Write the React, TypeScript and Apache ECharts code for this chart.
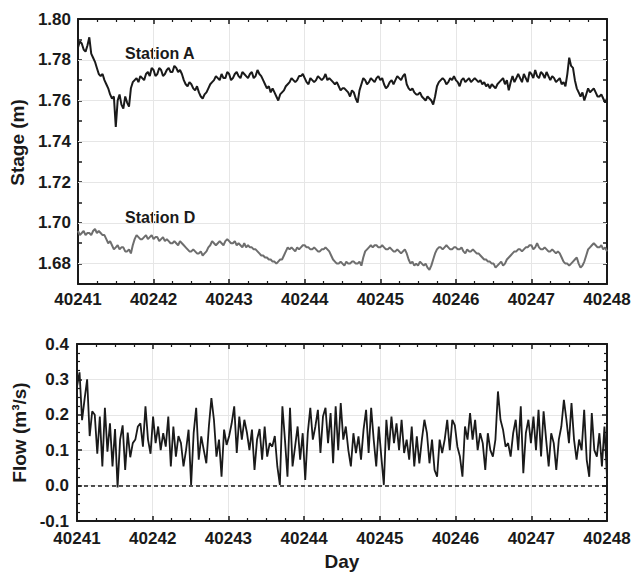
import React, { useEffect, useRef } from "react";
import * as echarts from "echarts";

const DAY_START = 40241;
const DAY_END = 40248;

// Station A stage (m), evenly spaced over the 7 days
const stationA = [
  1.786, 1.789, 1.788, 1.785, 1.784, 1.787, 1.791, 1.783, 1.781, 1.779,
  1.776, 1.773, 1.772, 1.773, 1.770, 1.768, 1.766, 1.763, 1.761, 1.762,
  1.747, 1.760, 1.763, 1.758, 1.756, 1.762, 1.759, 1.757, 1.766, 1.769,
  1.770, 1.771, 1.769, 1.772, 1.771, 1.770, 1.773, 1.774, 1.772, 1.776,
  1.775, 1.772, 1.773, 1.776, 1.775, 1.772, 1.773, 1.775, 1.776, 1.774,
  1.774, 1.777, 1.776, 1.774, 1.775, 1.773, 1.770, 1.768, 1.767, 1.769,
  1.768, 1.766, 1.765, 1.767, 1.764, 1.762, 1.761, 1.763, 1.764, 1.766,
  1.768, 1.769, 1.770, 1.772, 1.771, 1.770, 1.773, 1.771, 1.771, 1.774,
  1.773, 1.770, 1.771, 1.773, 1.774, 1.772, 1.771, 1.774, 1.773, 1.772,
  1.771, 1.773, 1.774, 1.771, 1.772, 1.775, 1.773, 1.772, 1.770, 1.768,
  1.766, 1.767, 1.764, 1.766, 1.764, 1.762, 1.760, 1.763, 1.764, 1.765,
  1.767, 1.768, 1.769, 1.771, 1.770, 1.769, 1.770, 1.772, 1.772, 1.773,
  1.771, 1.769, 1.768, 1.771, 1.770, 1.769, 1.770, 1.772, 1.771, 1.770,
  1.771, 1.773, 1.770, 1.771, 1.770, 1.769, 1.768, 1.769, 1.767, 1.765,
  1.766, 1.766, 1.765, 1.764, 1.762, 1.765, 1.764, 1.761, 1.759, 1.765,
  1.768, 1.771, 1.770, 1.768, 1.769, 1.771, 1.770, 1.769, 1.771, 1.772,
  1.770, 1.771, 1.768, 1.766, 1.767, 1.769, 1.770, 1.768, 1.770, 1.772,
  1.771, 1.770, 1.772, 1.773, 1.768, 1.766, 1.765, 1.766, 1.764, 1.763,
  1.763, 1.764, 1.762, 1.761, 1.760, 1.762, 1.761, 1.760, 1.758, 1.762,
  1.767, 1.769, 1.770, 1.771, 1.770, 1.768, 1.769, 1.771, 1.770, 1.772,
  1.770, 1.769, 1.767, 1.770, 1.771, 1.769, 1.770, 1.771, 1.769, 1.770,
  1.771, 1.770, 1.769, 1.770, 1.768, 1.769, 1.767, 1.768, 1.766, 1.768,
  1.767, 1.766, 1.768, 1.769, 1.770, 1.771, 1.768, 1.770, 1.765, 1.769,
  1.772, 1.769, 1.771, 1.773, 1.771, 1.769, 1.773, 1.771, 1.769, 1.774,
  1.773, 1.771, 1.775, 1.772, 1.771, 1.774, 1.773, 1.771, 1.774, 1.772,
  1.770, 1.772, 1.771, 1.769, 1.770, 1.771, 1.768, 1.769, 1.767, 1.773,
  1.781, 1.777, 1.776, 1.770, 1.766, 1.764, 1.762, 1.764, 1.760, 1.763,
  1.766, 1.764, 1.765, 1.766, 1.764, 1.762, 1.762, 1.763, 1.761, 1.759,
  1.761,
];

// Station D stage (m), evenly spaced over the 7 days
const stationD = [
  1.696, 1.694, 1.695, 1.696, 1.694, 1.695, 1.695, 1.694, 1.696, 1.697,
  1.695, 1.696, 1.695, 1.694, 1.694, 1.692, 1.690, 1.691, 1.689, 1.687,
  1.688, 1.689, 1.687, 1.688, 1.688, 1.686, 1.686, 1.687, 1.685, 1.689,
  1.692, 1.694, 1.693, 1.692, 1.692, 1.693, 1.694, 1.692, 1.693, 1.694,
  1.692, 1.693, 1.693, 1.691, 1.692, 1.693, 1.691, 1.692, 1.691, 1.690,
  1.690, 1.691, 1.690, 1.689, 1.691, 1.690, 1.689, 1.688, 1.687, 1.686,
  1.686, 1.687, 1.686, 1.685, 1.685, 1.686, 1.684, 1.685, 1.686, 1.688,
  1.689, 1.691, 1.690, 1.689, 1.690, 1.691, 1.690, 1.689, 1.691, 1.692,
  1.691, 1.690, 1.690, 1.691, 1.689, 1.690, 1.689, 1.688, 1.690, 1.688,
  1.689, 1.688, 1.688, 1.687, 1.687, 1.686, 1.685, 1.684, 1.684, 1.683,
  1.683, 1.682, 1.682, 1.681, 1.681, 1.680, 1.681, 1.682, 1.682, 1.684,
  1.686, 1.688, 1.687, 1.688, 1.687, 1.686, 1.688, 1.687, 1.688, 1.689,
  1.689, 1.688, 1.688, 1.687, 1.687, 1.688, 1.687, 1.686, 1.686, 1.687,
  1.687, 1.688, 1.687, 1.686, 1.684, 1.682, 1.681, 1.680, 1.680, 1.681,
  1.680, 1.679, 1.681, 1.680, 1.680, 1.681, 1.681, 1.680, 1.680, 1.681,
  1.679, 1.683, 1.686, 1.687, 1.688, 1.689, 1.688, 1.689, 1.689, 1.688,
  1.688, 1.689, 1.688, 1.687, 1.687, 1.688, 1.687, 1.686, 1.686, 1.687,
  1.686, 1.685, 1.686, 1.687, 1.685, 1.682, 1.680, 1.681, 1.679, 1.680,
  1.679, 1.681, 1.680, 1.679, 1.680, 1.678, 1.677, 1.679, 1.682, 1.685,
  1.687, 1.688, 1.688, 1.687, 1.688, 1.689, 1.688, 1.687, 1.687, 1.688,
  1.688, 1.687, 1.687, 1.688, 1.686, 1.685, 1.687, 1.686, 1.686, 1.687,
  1.686, 1.685, 1.685, 1.684, 1.683, 1.682, 1.682, 1.681, 1.681, 1.680,
  1.680, 1.678, 1.679, 1.680, 1.681, 1.679, 1.680, 1.682, 1.683, 1.684,
  1.685, 1.686, 1.686, 1.687, 1.687, 1.686, 1.687, 1.688, 1.688, 1.689,
  1.689, 1.687, 1.688, 1.690, 1.688, 1.687, 1.687, 1.688, 1.687, 1.686,
  1.686, 1.687, 1.686, 1.685, 1.686, 1.685, 1.683, 1.681, 1.680, 1.680,
  1.679, 1.680, 1.681, 1.682, 1.683, 1.680, 1.678, 1.679, 1.681, 1.684,
  1.687, 1.688, 1.689, 1.690, 1.689, 1.688, 1.688, 1.689, 1.687, 1.688,
  1.686,
];

// Flow (m3/s), evenly spaced over the 7 days
const flow = [
  0.28, 0.32, 0.185, 0.245, 0.30, 0.14, 0.21, 0.20, 0.09, 0.195,
  0.054, 0.22, 0.096, 0.176, 0.054, 0.16, -0.005, 0.13, 0.17, 0.044,
  0.15, 0.08, 0.12, 0.13, 0.167, 0.176, 0.11, 0.224, 0.13, 0.09,
  0.195, 0.12, 0.167, 0.10, 0.148, 0.11, 0.195, 0.054, 0.167, 0.082,
  0.14, 0.12, 0.054, 0.10, 0.158, 0.002, 0.148, 0.22, 0.073, 0.139,
  0.10, 0.063, 0.167, 0.247, 0.186, 0.082, 0.13, 0.025, 0.158, 0.115,
  0.14, 0.176, 0.224, 0.092, 0.195, 0.13, 0.186, 0.15,
  0.10, 0.158, 0.044, 0.13, 0.16, 0.073, 0.167, 0.082, 0.12, 0.11,
  0.14, 0.054, 0.002, 0.224, 0.13, 0.025, 0.22, 0.054, 0.11, 0.167,
  0.073, 0.148, 0.016, 0.148, 0.22, 0.13, 0.167, 0.214, 0.092, 0.195,
  0.22, 0.12, 0.205, 0.063, 0.224, 0.10, 0.233, 0.13, 0.167, 0.10,
  0.054, 0.148, 0.092, 0.139, 0.073, 0.158, 0.214, 0.092, 0.22, 0.13,
  0.054, 0.167, 0.082, 0.002, 0.186, 0.10, 0.195, 0.12, 0.176, 0.10,
  0.186, 0.092, 0.13, 0.073, 0.167, 0.054, 0.139, 0.063, 0.13, 0.186,
  0.148, 0.063, 0.13, 0.044, 0.025, 0.13, 0.092, 0.13, 0.186, 0.10,
  0.186, 0.17, 0.11, 0.082, 0.025, 0.167, 0.13, 0.205, 0.13, 0.186,
  0.10, 0.148, 0.12, 0.044, 0.148, 0.10, 0.082, 0.13, 0.266, 0.186,
  0.158, 0.11, 0.12, 0.082, 0.148, 0.186, 0.10, 0.224, 0.035, 0.148,
  0.186, 0.12, 0.195, 0.10, 0.214, 0.082, 0.21, 0.13, 0.054, 0.148,
  0.12, 0.044, 0.13, 0.167, 0.242, 0.186, 0.12, 0.233, 0.13, 0.073,
  0.13, 0.10, 0.214, 0.073, 0.025, 0.205, 0.10, 0.082, 0.148, 0.054,
  0.167, 0.025,
];

const stageGridValues = [1.68, 1.7, 1.72, 1.74, 1.76, 1.78];
const flowZero = 0;

const FONT = '"Liberation Sans", Arial, Helvetica, sans-serif';
const INK = "#1a1a1a";
const GRIDC = "#e6e6e6";

function toPairs(values: number[]) {
  const n = values.length;
  return values.map((v, i) => [DAY_START + (i * (DAY_END - DAY_START)) / (n - 1), v]);
}

export default function App() {
  const ref = useRef<HTMLDivElement>(null);

  useEffect(() => {
    if (!ref.current) return;
    const chart = echarts.init(ref.current, null, { renderer: "svg" });

    const axisLine = { show: true, onZero: false, lineStyle: { color: INK, width: 2 } };
    const tick = { show: true, inside: true, length: 5, lineStyle: { color: INK, width: 1.5 } };
    const labelStyle = { color: INK, fontFamily: FONT, fontWeight: "bold" as const, fontSize: 17 };
    const nameStyle = { color: INK, fontFamily: FONT, fontWeight: "bold" as const, fontSize: 19 };

    const xBase = (gridIndex: number, position: string, showLabel: boolean, margin: number) => ({
      type: "value",
      gridIndex,
      position,
      min: DAY_START,
      max: DAY_END,
      interval: 1,
      axisLine,
      axisTick: tick,
      minorTick: { show: true, splitNumber: 4, length: 3, lineStyle: { color: INK, width: 1.2 } },
      axisLabel: showLabel
        ? { ...labelStyle, margin, formatter: (v: number) => String(Math.round(v)) }
        : { show: false },
      splitLine: { show: showLabel, lineStyle: { color: GRIDC, width: 1 } },
    });

    const option: any = {
      animation: false,
      backgroundColor: "#ffffff",
      grid: [
        { left: 75, top: 19, width: 532, height: 265 },
        { left: 77, top: 344, width: 530, height: 177 },
      ],
      xAxis: [
        xBase(0, "bottom", true, 7),
        xBase(0, "top", false, 0),
        {
          ...xBase(1, "bottom", true, 9),
          name: "Day",
          nameLocation: "middle",
          nameGap: 31,
          nameTextStyle: nameStyle,
        },
        xBase(1, "top", false, 0),
      ],
      yAxis: [
        {
          type: "value",
          gridIndex: 0,
          position: "left",
          min: 1.67,
          max: 1.8,
          interval: 0.01,
          axisLine,
          axisTick: { ...tick, length: 4 },
          axisLabel: {
            ...labelStyle,
            margin: 7,
            formatter: (v: number) => (Math.round(v * 100) % 2 === 0 ? v.toFixed(2) : ""),
          },
          splitLine: { show: false },
          name: "Stage (m)",
          nameLocation: "middle",
          nameGap: 44,
          nameTextStyle: { ...nameStyle, padding: [0, 0, 0, 18] },
        },
        {
          type: "value",
          gridIndex: 0,
          position: "right",
          min: 1.67,
          max: 1.8,
          interval: 0.01,
          axisLine,
          axisTick: { ...tick, length: 4 },
          axisLabel: { show: false },
          splitLine: { show: false },
        },
        {
          type: "value",
          gridIndex: 1,
          position: "left",
          min: -0.1,
          max: 0.4,
          interval: 0.1,
          axisLine,
          axisTick: tick,
          minorTick: { show: true, splitNumber: 4, length: 3, lineStyle: { color: INK, width: 1.2 } },
          axisLabel: { ...labelStyle, margin: 8, formatter: (v: number) => v.toFixed(1) },
          splitLine: { show: true, lineStyle: { color: GRIDC, width: 1 } },
          name: "Flow (m³/s)",
          nameLocation: "middle",
          nameGap: 45,
          nameTextStyle: nameStyle,
        },
        {
          type: "value",
          gridIndex: 1,
          position: "right",
          min: -0.1,
          max: 0.4,
          interval: 0.1,
          axisLine,
          axisTick: tick,
          minorTick: { show: true, splitNumber: 4, length: 3, lineStyle: { color: INK, width: 1.2 } },
          axisLabel: { show: false },
          splitLine: { show: false },
        },
      ],
      series: [
        {
          name: "Station A",
          type: "line",
          xAxisIndex: 0,
          yAxisIndex: 0,
          data: toPairs(stationA),
          showSymbol: false,
          z: 3,
          lineStyle: { color: INK, width: 2 },
          markLine: {
            silent: true,
            symbol: "none",
            z: 1,
            label: { show: false },
            lineStyle: { color: GRIDC, width: 1, type: "solid" },
            data: stageGridValues.map((v) => ({ yAxis: v })),
          },
        },
        {
          name: "Station D",
          type: "line",
          xAxisIndex: 0,
          yAxisIndex: 0,
          data: toPairs(stationD),
          showSymbol: false,
          z: 3,
          lineStyle: { color: "#6e6e6e", width: 2 },
        },
        {
          name: "Flow",
          type: "line",
          xAxisIndex: 2,
          yAxisIndex: 2,
          data: toPairs(flow),
          showSymbol: false,
          z: 3,
          lineStyle: { color: INK, width: 1.8 },
          markLine: {
            silent: true,
            symbol: "none",
            z: 4,
            label: { show: false },
            lineStyle: { color: INK, width: 1.5, type: [4, 3] },
            data: [{ yAxis: flowZero }],
          },
        },
      ],
      graphic: [
        {
          type: "text",
          left: 125,
          top: 45,
          style: { text: "Station A", fill: INK, font: `bold 16px ${FONT}` },
        },
        {
          type: "text",
          left: 125,
          top: 209,
          style: { text: "Station D", fill: INK, font: `bold 16px ${FONT}` },
        },
      ],
    };

    chart.setOption(option);
    return () => chart.dispose();
  }, []);

  return (
    <div
      ref={ref}
      style={{ position: "fixed", left: 0, top: 0, width: 635, height: 574, background: "#fff" }}
    />
  );
}
